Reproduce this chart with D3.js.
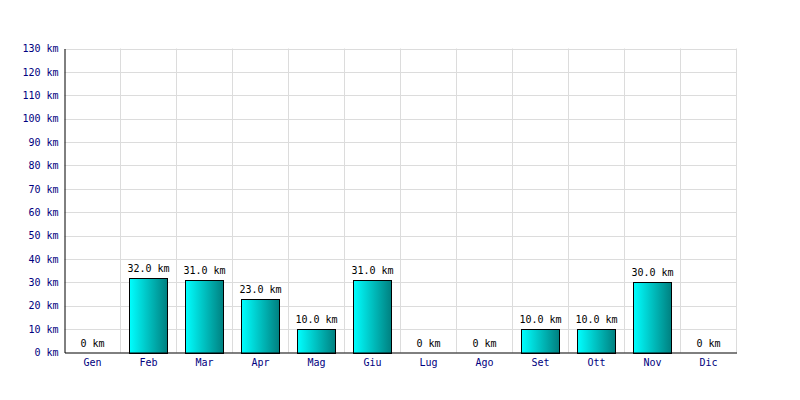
<!DOCTYPE html>
<html><head><meta charset="utf-8">
<script src="https://cdn.jsdelivr.net/npm/d3@7"></script>
<style>body{margin:0;background:#fff}svg{display:block}</style>
</head><body>
<svg id="c" width="800" height="400"></svg>
<script>
const months = ["Gen","Feb","Mar","Apr","Mag","Giu","Lug","Ago","Set","Ott","Nov","Dic"];
const km = [0,32,31,23,10,31,0,0,10,10,30,0];
const yTicks = [0,10,20,30,40,50,60,70,80,90,100,110,120,130];

const svg = d3.select("#c");
const m = {l:64.5, r:736.5, t:48.5, b:352.5};
const font = "'DejaVu Sans Mono', monospace";
const x = d3.scaleBand().domain(months).range([m.l, m.r]).paddingInner(0.32).paddingOuter(0.16);
const xb = d3.scaleBand().domain(months).range([m.l, m.r]);
const y = d3.scaleLinear().domain([0,130]).range([m.b, m.t]);

const defs = svg.append("defs");
const g = defs.append("linearGradient").attr("id","grad").attr("x1","0%").attr("x2","100%").attr("y1","0%").attr("y2","0%");
g.append("stop").attr("offset","0%").attr("stop-color","#00ffff");
g.append("stop").attr("offset","100%").attr("stop-color","#008080");

// grid
svg.append("g").selectAll("line").data(yTicks.slice(1)).join("line")
  .attr("x1", m.l).attr("x2", m.r).attr("y1", d=>Math.round(y(d))+0.5).attr("y2", d=>Math.round(y(d))+0.5)
  .attr("stroke","#dcdcdc").attr("stroke-width",1);
svg.append("g").selectAll("line").data(months.slice(1).concat(["__end"])).join("line")
  .attr("x1", d=> d==="__end"? m.r : xb(d)).attr("x2", d=> d==="__end"? m.r : xb(d))
  .attr("y1", m.t).attr("y2", m.b)
  .attr("stroke","#dcdcdc").attr("stroke-width",1);

// bars
svg.append("g").selectAll("rect").data(months.map((mo,i)=>({mo, v:km[i]})).filter(d=>d.v>0)).join("rect")
  .attr("x", d=>Math.round(x(d.mo))+0.5)
  .attr("width", Math.round(x.bandwidth()))
  .attr("y", d=>Math.round(y(d.v))+0.5)
  .attr("height", d=>Math.round(y(0))-Math.round(y(d.v)))
  .attr("fill","url(#grad)").attr("stroke","#000").attr("stroke-width",1);

// value labels
svg.append("g").selectAll("text").data(months.map((mo,i)=>({mo, v:km[i]}))).join("text")
  .attr("x", d=>xb(d.mo)+xb.bandwidth()/2)
  .attr("y", d=>y(d.v)-6)
  .attr("text-anchor","middle").attr("font-family",font).attr("font-size",10).attr("fill","#000")
  .text(d=> d.v===0 ? "0 km" : d.v.toFixed(1)+" km");

// y axis
const ya = svg.append("g").attr("transform",`translate(${m.l},0)`)
  .call(d3.axisLeft(y).tickValues(yTicks).tickSize(0).tickPadding(6).tickFormat(d=>d+" km"));
ya.select(".domain").attr("stroke","#000");
ya.selectAll("text").attr("font-family",font).attr("font-size",10).attr("fill","#000080");

// x axis
const xa = svg.append("g").attr("transform",`translate(0,${m.b})`)
  .call(d3.axisBottom(xb).tickSize(0).tickPadding(6));
xa.select(".domain").attr("stroke","#000");
xa.selectAll("text").attr("font-family",font).attr("font-size",10).attr("fill","#000080");
</script>
</body></html>
